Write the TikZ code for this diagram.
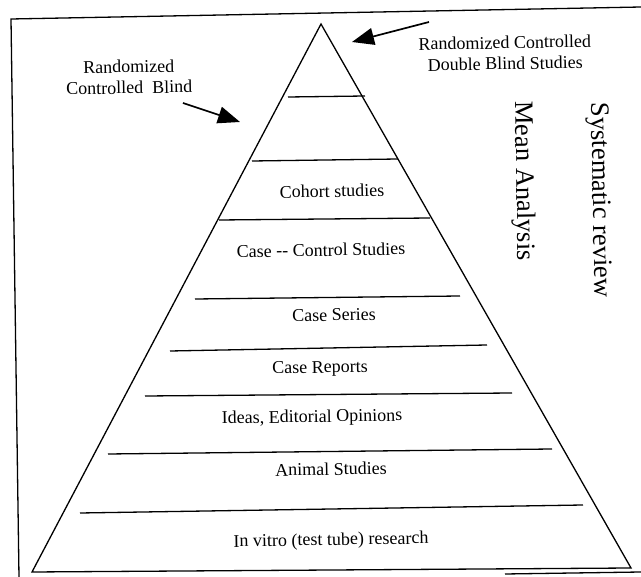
\documentclass[tikz,border=0pt]{standalone}
\usepackage{fontspec}
\setmainfont{Liberation Serif}
\usetikzlibrary{arrows.meta}
\begin{document}
\begin{tikzpicture}[x=1pt,y=-1pt,line width=1.3pt,
  lbl/.style={font=\fontsize{18}{21}\selectfont,inner sep=0pt,align=center,rotate=1},
  vlbl/.style={font=\fontsize{26.5}{30}\selectfont,inner sep=0pt,rotate=-89},
  tierline/.style={line width=1.3pt},
  bigarrow/.style={line width=1.7pt,-{Triangle[length=22pt,width=17pt]}}]
\useasboundingbox (0,0) rectangle (641,577);
% frame
\draw (641,7) -- (11,19) -- (19,577);
\draw (505,574) -- (641,572);
% pyramid
\coordinate (apex) at (321,24);
\coordinate (bl) at (32,572);
\coordinate (br) at (631,568);
\draw (apex) -- (bl) -- (br) -- cycle;
% tiers
\draw[tierline] (288,97) -- (365,96);
\draw[tierline] (252,161) -- (398,159);
\draw[tierline] (219,220) -- (430,218);
\draw[tierline] (195,299) -- (460,296);
\draw[tierline] (170,351) -- (487,345);
\draw[tierline] (145,396) -- (512,393);
\draw[tierline] (108,454) -- (552,449);
\draw[tierline] (80,513) -- (583,505);
% tier labels
\node[lbl] (cohort) at (332,191) {Cohort studies};
\node[lbl] (casecontrol) at (321,250) {Case -{}- Control Studies};
\node[lbl] (series) at (334,315) {Case Series};
\node[lbl] (reports) at (320,369) {Case Reports};
\node[lbl] (ideas) at (312,418) {Ideas, Editorial Opinions};
\node[lbl] (animal) at (331,469) {Animal Studies};
\node[lbl] (invitro) at (331,541) {In vitro (test tube) research};
% side labels
\node[lbl] (rcb) at (129,77) {Randomized\\Controlled\ \ Blind};
\node[lbl] (rcdb) at (505,53) {Randomized Controlled\\Double Blind Studies};
\node[vlbl] (mean) at (523,181) {Mean Analysis};
\node[vlbl] (sysrev) at (599,200) {Systematic review};
% arrows
\coordinate (lt) at (183,103);
\coordinate (lh) at (240,122);
\coordinate (rt) at (429,22);
\coordinate (rh) at (352,42);
\draw[bigarrow] (lt) -- (lh);
\draw[bigarrow] (rt) -- (rh);
\end{tikzpicture}
\end{document}
